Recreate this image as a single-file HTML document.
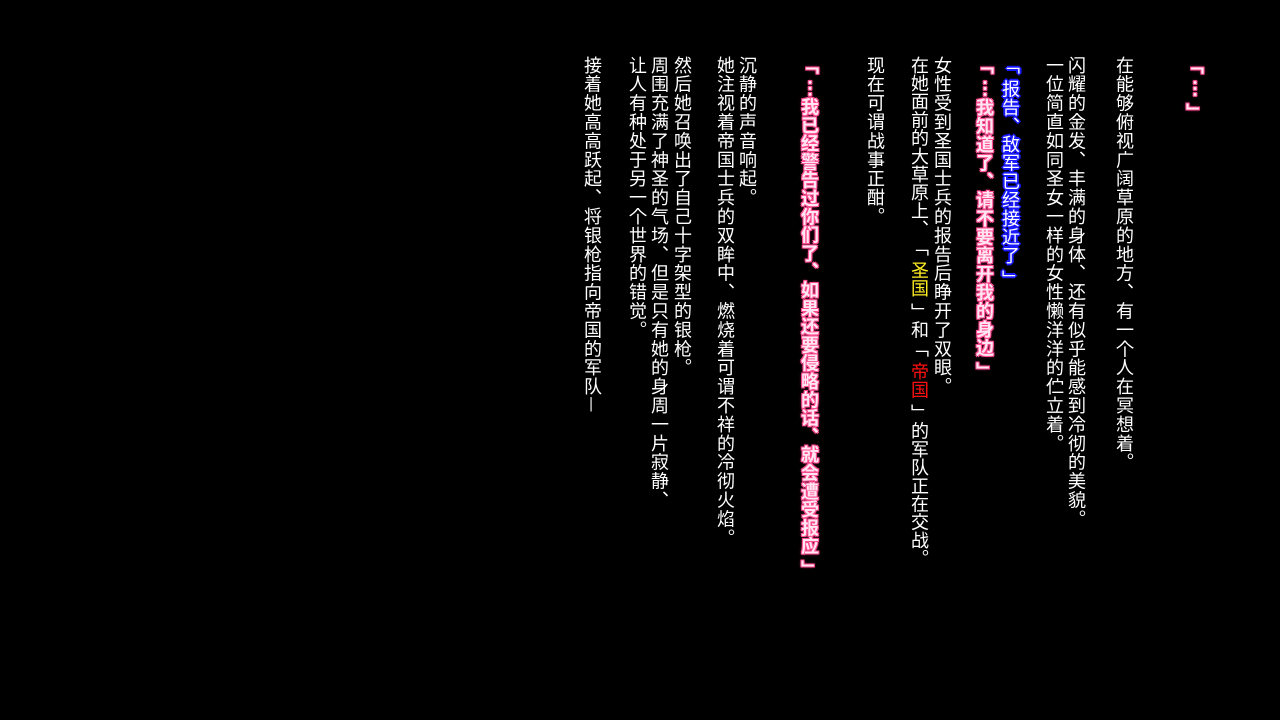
<!DOCTYPE html>
<html><head><meta charset="utf-8"><style>
html,body{margin:0;padding:0;background:#000;width:1280px;height:720px;overflow:hidden}
.c{position:absolute;top:56px;writing-mode:vertical-rl;font-family:"Noto Sans CJK JP","Liberation Sans",sans-serif;font-size:18px;line-height:22px;letter-spacing:0.9px;color:#fff;white-space:nowrap;transform:translateX(-11px);text-spacing-trim:space-all}
.p{font-weight:bold;letter-spacing:0.5px;color:#ffe6f0;text-shadow:0 0 1px #ff3d8a,1px 1px 0 #ff4f93,-1px -1px 0 #ff4f93,1px -1px 0 #ff4f93,-1px 1px 0 #ff4f93,0 0 3px #ff2d7e}
.b{letter-spacing:0.5px;color:#fff;text-shadow:1px 1px 0 #1a1aff,-1px -1px 0 #1a1aff,1px -1px 0 #1a1aff,-1px 1px 0 #1a1aff,0 2px 0 #1a1aff,2px 0 0 #1a1aff,-2px 0 0 #1a1aff,0 -2px 0 #1a1aff}
.y{color:#ffee22}.r{color:#ff1010}
.o{padding-inline-end:5px}.e{padding-inline-start:5px}
</style></head><body>
<div class="c p" style="left:1195px"><span class="o">「</span>…<span class="e">」</span></div>
<div class="c" style="left:1125px">在能够俯视广阔草原的地方、有一个人在冥想着。</div>
<div class="c" style="left:1077px">闪耀的金发、丰满的身体、还有似乎能感到冷彻的美貌。</div>
<div class="c" style="left:1055px">一位简直如同圣女一样的女性懒洋洋的伫立着。</div>
<div class="c b" style="left:1011px"><span class="o">「</span>报告、敌军已经接近了<span class="e">」</span></div>
<div class="c p" style="left:985px"><span class="o">「</span>…我知道了、请不要离开我的身边<span class="e">」</span></div>
<div class="c" style="left:943px">女性受到圣国士兵的报告后睁开了双眼。</div>
<div class="c" style="left:920px;letter-spacing:0.2px">在她面前的大草原上、<span class="o">「</span><span class="y">圣国</span><span class="e">」</span>和<span class="o">「</span><span class="r">帝国</span><span class="e">」</span>的军队正在交战。</div>
<div class="c" style="left:876px">现在可谓战事正酣。</div>
<div class="c p" style="left:810px;letter-spacing:0.3px"><span class="o">「</span>…我已经警告过你们了、如果还要侵略的话、就会遭受报应<span class="e">」</span></div>
<div class="c" style="left:748px">沉静的声音响起。</div>
<div class="c" style="left:726px">她注视着帝国士兵的双眸中、燃烧着可谓不祥的冷彻火焰。</div>
<div class="c" style="left:683px">然后她召唤出了自己十字架型的银枪。</div>
<div class="c" style="left:660px">周围充满了神圣的气场、但是只有她的身周一片寂静、</div>
<div class="c" style="left:638px">让人有种处于另一个世界的错觉。</div>
<div class="c" style="left:593px">接着她高高跃起、将银枪指向帝国的军队—</div>
</body></html>
